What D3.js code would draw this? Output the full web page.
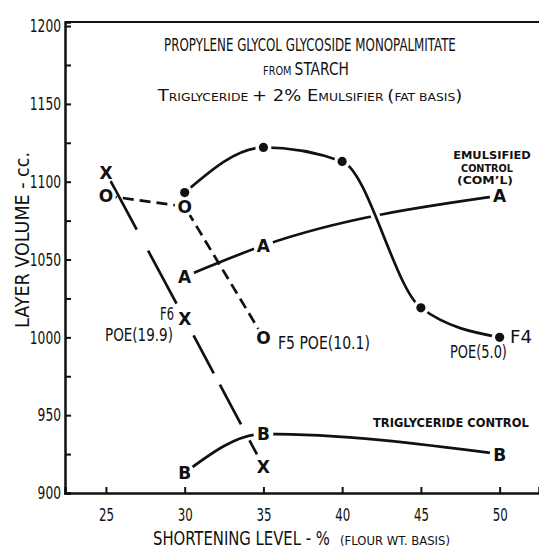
<!DOCTYPE html>
<html>
<head>
<meta charset="utf-8">
<script src="https://cdn.jsdelivr.net/npm/d3@7"></script>
<style>
  body { margin: 0; background: #fff; }
  text { font-family: "DejaVu Sans Condensed", "Liberation Sans Narrow", "DejaVu Sans", sans-serif; fill: #111; }
</style>
</head>
<body>
<svg id="chart" width="539" height="548"></svg>
<script>
// axis values
const xTicks = [25, 30, 35, 40, 45, 50];
const yTicks = [900, 950, 1000, 1050, 1100, 1150, 1200];
const yMinor = [925, 975, 1025, 1075, 1125, 1175];

// F4 (filled dots, solid)
const f4Level = [30, 35, 40, 45, 50];
const f4Volume = [1093, 1122, 1113, 1019, 1000];
// F5 (O markers, short dashes)
const f5Level = [25, 30, 35];
const f5Volume = [1091, 1084, 1000];
// F6 (X markers, long dashes)
const f6Level = [25, 30, 35];
const f6Volume = [1106, 1012, 917];
// emulsified control (A)
const emLevel = [30, 35, 50];
const emVolume = [1039, 1059, 1091];
// triglyceride control (B)
const trLevel = [30, 35, 50];
const trVolume = [913, 938, 925];

const svg = d3.select("#chart");
const plotL = 65, plotR = 539, plotT = 22, plotB = 493;

const x = d3.scaleLinear().domain([22.4, 52.5]).range([plotL, plotR]);
const y = d3.scaleLinear().domain([900, 1202.6]).range([plotB, plotT]);

// squeeze text sideways to look like the narrow lettering
function fit(sel, w) {
  const w0 = sel.node().getBBox().width;
  const k = w / w0;
  const x0 = +sel.attr("x") || 0, y0 = +sel.attr("y") || 0;
  const prev = sel.attr("transform") || "";
  sel.attr("transform", `${prev} translate(${x0},${y0}) scale(${k},1) translate(${-x0},${-y0})`);
  return sel;
}

// frame top
svg.append("line")
  .attr("x1", plotL).attr("x2", plotR).attr("y1", plotT).attr("y2", plotT)
  .attr("stroke", "#111").attr("stroke-width", 2);

// y axis
const yAxis = svg.append("g")
  .attr("transform", `translate(${plotL},0)`)
  .call(d3.axisLeft(y).tickValues(yTicks).tickFormat(d3.format("d")).tickSize(-6).tickPadding(4));
yAxis.selectAll("text")
  .style("font-size", "18px")
  .each(function (d) { fit(d3.select(this), String(d).length * 7.8); });
svg.append("g")
  .attr("transform", `translate(${plotL},0)`)
  .call(d3.axisLeft(y).tickValues(yMinor).tickSize(-6).tickFormat(""))
  .select(".domain").remove();

// x axis
const xAxis = svg.append("g")
  .attr("transform", `translate(0,${plotB})`)
  .call(d3.axisBottom(x).tickValues(xTicks).tickSize(-6).tickPadding(15));
xAxis.selectAll("text")
  .style("font-size", "18px")
  .each(function () { fit(d3.select(this), 15); });

svg.selectAll(".domain").attr("stroke", "#111").attr("stroke-width", 2.5);
svg.selectAll(".tick line").attr("stroke", "#111").attr("stroke-width", 2);

// axis titles
fit(svg.append("text").attr("x", 153).attr("y", 545)
  .style("font-size", "19px").text("SHORTENING LEVEL - %"), 177);
fit(svg.append("text").attr("x", 340).attr("y", 545)
  .style("font-size", "13px").text("(FLOUR WT. BASIS)"), 110);

fit(svg.append("text")
  .attr("transform", "translate(29,240) rotate(-90)")
  .attr("text-anchor", "middle")
  .style("font-size", "19px")
  .text("LAYER VOLUME - cc."), 176);

// titles
fit(svg.append("text").attr("x", 310).attr("y", 51).attr("text-anchor", "middle")
  .style("font-size", "17px").text("PROPYLENE GLYCOL GLYCOSIDE MONOPALMITATE"), 292);
const t2 = svg.append("text").attr("x", 306).attr("y", 75).attr("text-anchor", "middle");
t2.append("tspan").style("font-size", "12px").text("FROM ");
t2.append("tspan").style("font-size", "17px").text("STARCH");
fit(t2, 86);
const t3 = svg.append("text").attr("x", 310).attr("y", 101).attr("text-anchor", "middle");
[["T", 16], ["RIGLYCERIDE ", 11], ["+ 2% E", 16], ["MULSIFIER ", 11], ["(", 16], ["FAT BASIS", 11], [")", 16]]
  .forEach(([s, f]) => t3.append("tspan").style("font-size", f + "px").text(s));
fit(t3, 306);

// lines
const smooth = d3.line().curve(d3.curveMonotoneX).x(d => x(d[0])).y(d => y(d[1]));
const straight = d3.line().x(d => x(d[0])).y(d => y(d[1]));
const pts = (a, b) => a.map((v, i) => [v, b[i]]);

const g = svg.append("g").attr("fill", "none").attr("stroke", "#111").attr("stroke-width", 2.7);
g.append("path").attr("d", smooth(pts(trLevel, trVolume)));
g.append("path").attr("d", smooth(pts(emLevel, emVolume)));
g.append("path").attr("d", straight(pts(f6Level, f6Volume)))
  .attr("stroke-dasharray", "65 24 60 36 43 13 45 18 16 40");
g.append("path").attr("d", straight(pts(f5Level, f5Volume))).attr("stroke-dasharray", "11 6");
// F4 curve breaks the control line where it crosses
g.append("path").attr("d", smooth(pts(f4Level, f4Volume))).attr("stroke", "#fff").attr("stroke-width", 9);
g.append("path").attr("d", smooth(pts(f4Level, f4Volume)));

// markers with white gap round them
const marks = [
  ...pts(trLevel, trVolume).map(p => [p, "B"]),
  ...pts(emLevel, emVolume).map(p => [p, "A"]),
  ...pts(f6Level, f6Volume).map(p => [p, "X"]),
  ...pts(f5Level, f5Volume).map(p => [p, "O"]),
  ...pts(f4Level, f4Volume).map(p => [p, "dot"])
];
svg.append("g").selectAll("circle").data(marks).join("circle")
  .attr("cx", d => x(d[0][0])).attr("cy", d => y(d[0][1]))
  .attr("r", d => d[1] === "dot" ? 8 : 10).attr("fill", "#fff");
svg.append("g").selectAll("circle").data(marks.filter(d => d[1] === "dot")).join("circle")
  .attr("cx", d => x(d[0][0])).attr("cy", d => y(d[0][1]))
  .attr("r", 4.6).attr("fill", "#111");
svg.append("g").selectAll("text").data(marks.filter(d => d[1] !== "dot")).join("text")
  .attr("x", d => x(d[0][0])).attr("y", d => y(d[0][1]) + 6.5)
  .attr("text-anchor", "middle")
  .style("font-family", "'DejaVu Sans', sans-serif")
  .style("font-weight", "bold")
  .style("font-size", "17px")
  .text(d => d[1]);

// annotations
function note(txt, x0, y0, size, w, anchor, bold) {
  const t = svg.append("text").attr("x", x0).attr("y", y0)
    .attr("text-anchor", anchor || "start").style("font-size", size + "px").text(txt);
  if (bold) t.style("font-weight", "bold");
  return fit(t, w);
}
note("EMULSIFIED", 492, 159.5, 10.5, 78, "middle", true);
note("CONTROL", 487, 172, 10.5, 52, "middle", true);
note("(COM\u2019L)", 485, 184.5, 10.5, 56, "middle", true);
note("F4", 510, 343, 17, 22);
note("POE(5.0)", 450, 358, 17, 57);
note("F5 POE(10.1)", 278, 349, 17, 92);
note("F6", 160, 320, 17, 14);
note("POE(19.9)", 105, 341, 17, 68);
note("TRIGLYCERIDE CONTROL", 373, 427, 12, 156, "start", true);
</script>
</body>
</html>
